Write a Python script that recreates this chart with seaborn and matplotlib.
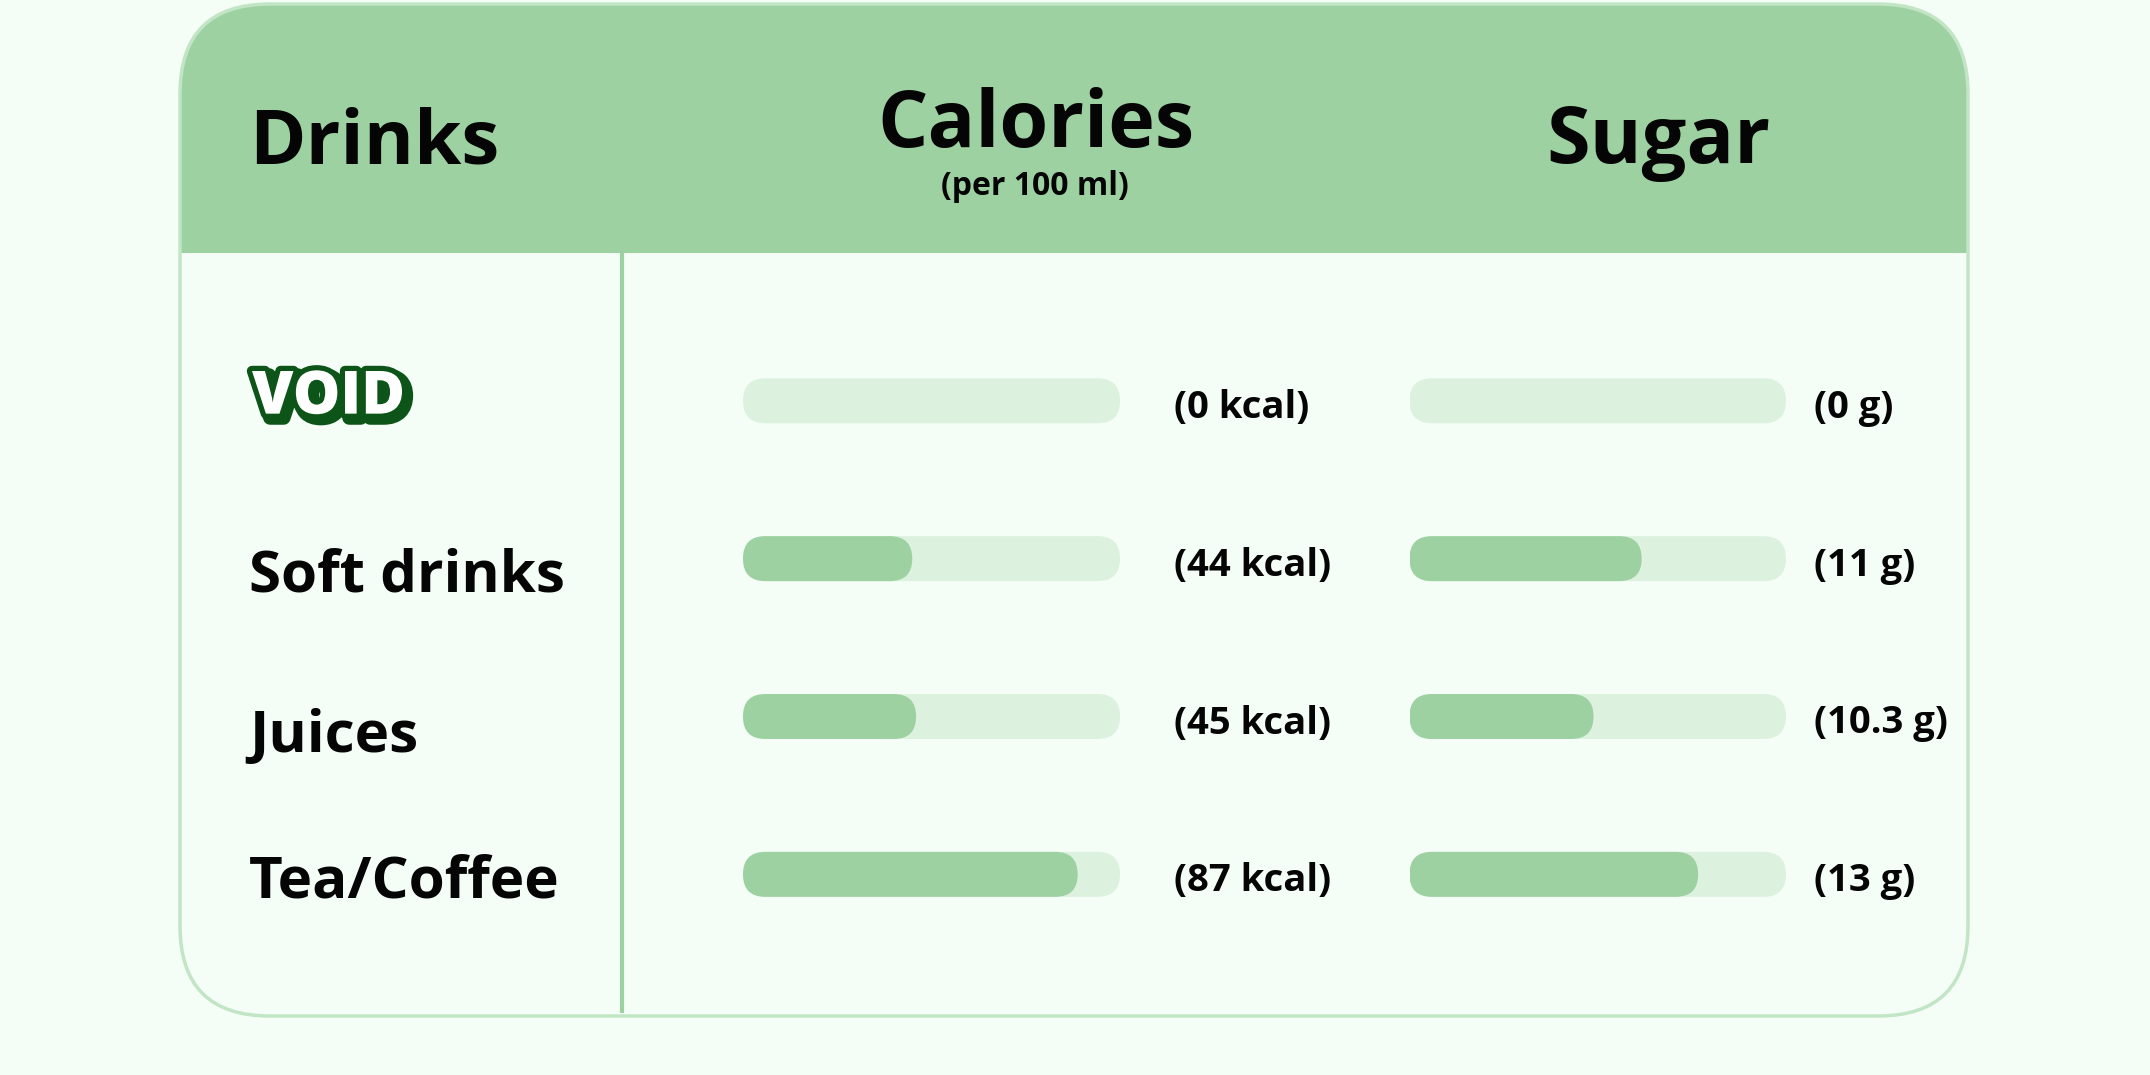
import matplotlib
matplotlib.use('Agg')
import matplotlib.pyplot as plt
import matplotlib.patheffects as pe
import matplotlib.transforms as mtransforms
from matplotlib.patches import FancyBboxPatch, Rectangle
import seaborn as sns

# Dados
drinks = ['VOID', 'Soft drinks', 'Juices', 'Tea/Coffee']
calories = [0, 44, 45, 87]          # kcal per 100 ml
sugar = [0, 11, 10.3, 13]           # g per 100 ml (labels)
# the sugar bars in the source are not drawn to scale with the labels,
# these are the lengths (same units, track = 18)
sugar_bar = [0, 11.1, 8.8, 13.8]
headers = ['Drinks', 'Calories', 'Sugar']
subheader = '(per 100 ml)'
cal_max = 98
sugar_max = 18

# Cores
BG = '#f4fef7'
HEADER = '#9ed1a2'
TRACK = '#dcf2df'
FILL = '#9ed1a2'
OUTLINE = '#c2e5c6'
VOID_GREEN = '#0c5417'
INK = '#050505'

# Layout (pixels)
W, H = 2150, 1075
ROW0, ROW_STEP = 400.8, 157.85
BAR_W = 45 / ROW_STEP
NAME_NUDGE = [0, 33, 36, 23]        # baseline offsets of the drink names (px)

sns.set_style('white')
plt.rcParams['font.family'] = ['Open Sans', 'DejaVu Sans']
plt.rcParams['text.color'] = INK

fig = plt.figure(figsize=(W / 100, H / 100), dpi=100, facecolor=BG)
bg = fig.add_axes([0, 0, 1, 1])
bg.set_xlim(0, W)
bg.set_ylim(H, 0)
bg.axis('off')

# -------------------------------------------------------------------------
# Cartão com cabeçalho
# -------------------------------------------------------------------------
card_box = dict(boxstyle='round,pad=0,rounding_size=90')
card = FancyBboxPatch((180, 4), 1788, 1012, fc=BG, ec='none', zorder=0, **card_box)
bg.add_patch(card)
head = Rectangle((170, 0), 1810, 253, fc=HEADER, ec='none', zorder=1)
bg.add_patch(head)
head.set_clip_path(card)
bg.add_patch(FancyBboxPatch((180, 4), 1788, 1012, fc='none', ec=OUTLINE,
                            lw=2.5, zorder=2, **card_box))
bg.plot([622, 622], [253, 1013], color=FILL, lw=3, solid_capstyle='butt', zorder=2)

bg.text(249, 163, headers[0], fontsize=55, fontweight='bold', ha='left', va='baseline')
bg.text(1036, 147, headers[1], fontsize=57, fontweight='bold', ha='center', va='baseline')
bg.text(1035, 195, subheader, fontsize=23, fontweight='bold', ha='center', va='baseline')
bg.text(1658, 163, headers[2], fontsize=57, fontweight='bold', ha='center', va='baseline')


# -------------------------------------------------------------------------
# Barras arredondadas
# -------------------------------------------------------------------------
def bar_axes(left, right):
    top = ROW0 - 0.5 * ROW_STEP
    bottom = ROW0 + 3.5 * ROW_STEP
    return fig.add_axes([left / W, 1 - bottom / H, (right - left) / W, (bottom - top) / H])


def round_bars(ax, radius_px=22.5):
    fig.canvas.draw()
    x0, x1 = ax.get_xlim()
    px_x = ax.bbox.width / (x1 - x0)
    px_y = ax.bbox.height / 4.0
    for p in list(ax.patches):
        x, y, w, h = p.get_x(), p.get_y(), p.get_width(), p.get_height()
        fc = p.get_facecolor()
        p.remove()
        if w <= 0:
            continue
        ax.add_patch(FancyBboxPatch(
            (x, y), w, h,
            boxstyle=f'round,pad=0,rounding_size={radius_px / px_x}',
            mutation_aspect=px_x / px_y, fc=fc, ec='none'))


def draw_column(ax, values, vmax, labels, label_gap_px):
    sns.barplot(x=[vmax] * len(drinks), y=drinks, ax=ax, color=TRACK,
                saturation=1, width=BAR_W, orient='y')
    sns.barplot(x=values, y=drinks, ax=ax, color=FILL,
                saturation=1, width=BAR_W, orient='y')
    ax.set_xlim(0, vmax)
    ax.set_ylim(3.5, -0.5)
    ax.axis('off')
    round_bars(ax)
    for i, lbl in enumerate(labels):
        ax.annotate(lbl, xy=(1, i), xycoords=('axes fraction', 'data'),
                    xytext=(label_gap_px * 0.72, -7 * 0.72), textcoords='offset points',
                    ha='left', va='center', fontsize=27.5, fontweight='bold')


ax_cal = bar_axes(743, 1120)
draw_column(ax_cal, calories, cal_max, [f'({v} kcal)' for v in calories], 54)

ax_sug = bar_axes(1409.5, 1786)
draw_column(ax_sug, sugar_bar, sugar_max, [f'({v:g} g)' for v in sugar], 28)

# -------------------------------------------------------------------------
# Nomes das bebidas (coluna da esquerda)
# -------------------------------------------------------------------------
row_tr = mtransforms.blended_transform_factory(bg.transData, ax_cal.transData)
for i, name in enumerate(drinks):
    if name == 'VOID':
        bg.text(252, i - 0.02, name, transform=row_tr, fontsize=43, fontweight='heavy',
                color='white', ha='left', va='center',
                path_effects=[pe.Stroke(linewidth=10, foreground=VOID_GREEN, offset=(3, -3)),
                              pe.Stroke(linewidth=7.5, foreground=VOID_GREEN),
                              pe.Normal()])
    else:
        bg.text(249, i + NAME_NUDGE[i] / ROW_STEP, name, transform=row_tr, fontsize=42,
                fontweight='bold', ha='left', va='baseline')

fig.savefig('out.png', dpi=100, facecolor=BG)
plt.close(fig)
